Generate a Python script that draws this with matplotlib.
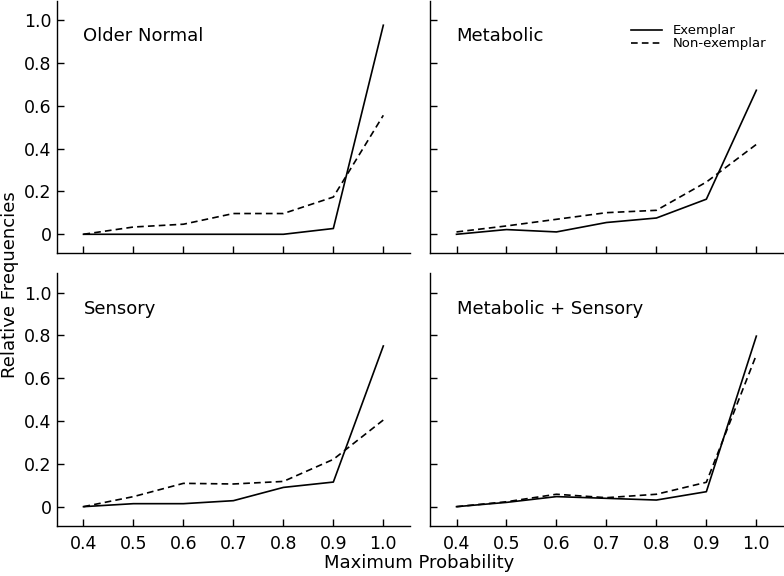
import matplotlib
matplotlib.use("Agg")
import matplotlib.pyplot as plt

plt.rcParams['font.family'] = ['DejaVu Sans']

# x values (maximum probability bins)
max_prob = [0.4, 0.5, 0.6, 0.7, 0.8, 0.9, 1.0]

# relative frequencies
older_ex = [0.0, 0.0, 0.0, 0.0, 0.0, 0.027, 0.977]
older_non = [0.0, 0.034, 0.047, 0.097, 0.097, 0.174, 0.556]

metab_ex = [0.0, 0.022, 0.011, 0.055, 0.076, 0.164, 0.673]
metab_non = [0.011, 0.039, 0.07, 0.101, 0.112, 0.244, 0.42]

sens_ex = [0.0, 0.014, 0.014, 0.028, 0.09, 0.115, 0.751]
sens_non = [0.0, 0.047, 0.109, 0.106, 0.118, 0.221, 0.405]

both_ex = [0.0, 0.02, 0.047, 0.039, 0.031, 0.07, 0.797]
both_non = [0.0, 0.023, 0.058, 0.042, 0.058, 0.114, 0.709]

titles = ['Older Normal', 'Metabolic', 'Sensory', 'Metabolic + Sensory']
exemplar = [older_ex, metab_ex, sens_ex, both_ex]
non_exemplar = [older_non, metab_non, sens_non, both_non]

yticks = [0, 0.2, 0.4, 0.6, 0.8, 1.0]
ytick_labels = ['0', '0.2', '0.4', '0.6', '0.8', '1.0']
xtick_labels = ['0.4', '0.5', '0.6', '0.7', '0.8', '0.9', '1.0']

fig = plt.figure(figsize=(7.84, 5.76), dpi=100)

# axes boxes in figure fractions [left, bottom, width, height]
boxes = [
    [0.0727, 0.5602, 0.4500, 0.4380],
    [0.5485, 0.5602, 0.4500, 0.4380],
    [0.0727, 0.0873, 0.4500, 0.4380],
    [0.5485, 0.0873, 0.4500, 0.4380],
]

axes = []
for i, box in enumerate(boxes):
    ax = fig.add_axes(box)
    axes.append(ax)
    ax.plot(max_prob, exemplar[i], color='black', lw=1.2, label='Exemplar')
    ax.plot(max_prob, non_exemplar[i], color='black', lw=1.2,
            linestyle=(0, (4, 2.5)), label='Non-exemplar')
    ax.set_xlim(0.347, 1.053)
    ax.set_ylim(-0.089, 1.09)
    ax.set_xticks(max_prob)
    ax.set_yticks(yticks)
    ax.spines['top'].set_visible(False)
    ax.spines['right'].set_visible(False)
    ax.spines['left'].set_linewidth(1.0)
    ax.spines['bottom'].set_linewidth(1.0)
    ax.tick_params(direction='in', length=5, width=1.0, labelsize=12.5)
    ax.tick_params(axis='y', pad=4)
    ax.tick_params(axis='x', pad=7)
    if i % 2 == 0:
        ax.set_yticklabels(ytick_labels)
    else:
        ax.set_yticklabels([])
    if i >= 2:
        ax.set_xticklabels(xtick_labels)
    else:
        ax.set_xticklabels([])
    ax.text(0.4, 0.925, titles[i], fontsize=13, va='center', ha='left')

axes[1].legend(loc='upper left', bbox_to_anchor=(0.571, 0.907), frameon=False,
               fontsize=9.5, handlelength=2.3, handletextpad=0.8,
               labelspacing=0.0, borderaxespad=0, borderpad=0)

fig.text(0.013, 0.505, 'Relative Frequencies', rotation=90, fontsize=13,
         va='center', ha='center')
fig.text(0.535, 0.022, 'Maximum Probability', fontsize=13,
         va='center', ha='center')

fig.savefig('out.png', dpi=100)
